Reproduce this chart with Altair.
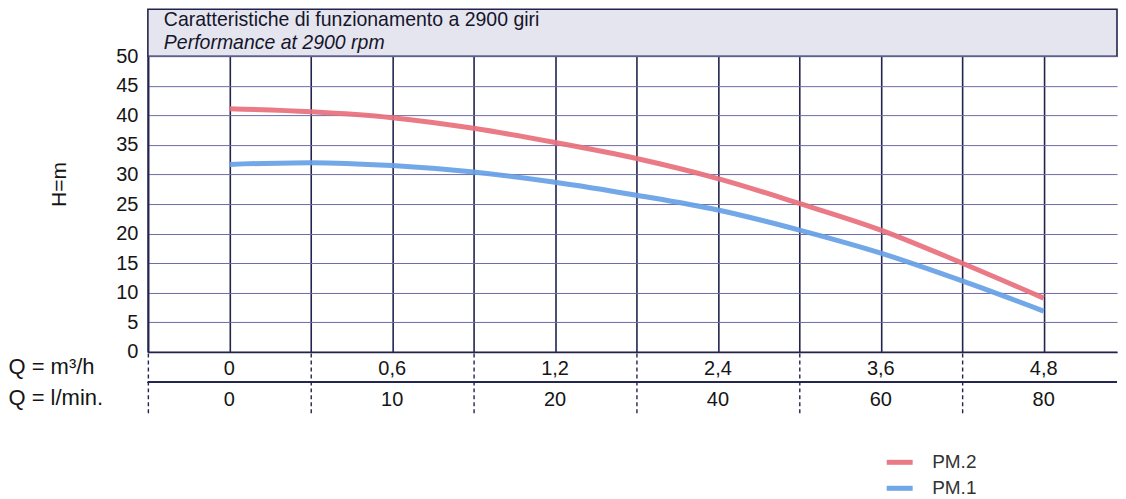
import altair as alt
import pandas as pd

# ---- data ----
pos = [0, 0.5, 1, 1.5, 2, 2.5, 3, 3.5, 4, 4.5, 5]
pm2 = [41.1, 40.6, 39.6, 37.8, 35.4, 32.7, 29.3, 25.1, 20.6, 15.0, 9.1]
pm1 = [31.7, 32.0, 31.5, 30.4, 28.7, 26.5, 24.0, 20.6, 16.7, 12.0, 6.9]
series_names = ["PM.2", "PM.1"]
series_colors = ["#e8707c", "#66a0e6"]

label_pos = [0, 1, 2, 3, 4, 5]
q_m3h = ["0", "0,6", "1,2", "2,4", "3,6", "4,8"]
q_lmin = ["0", "10", "20", "40", "60", "80"]
row_names = ["Q = m³/h", "Q = l/min."]

title_line1 = "Caratteristiche di funzionamento a 2900 giri"
title_line2 = "Performance at 2900 rpm"

y_ticks = list(range(0, 51, 5))
x_grid = [-0.5 + 0.5 * i for i in range(12)]
x_sep = [-0.5 + i for i in range(6)]

W = 970
FONT = "Liberation Sans"
DARK = "#23244d"

curves = pd.DataFrame(
    {"pos": pos * 2, "H": pm2 + pm1, "series": [series_names[0]] * len(pos) + [series_names[1]] * len(pos)}
)
table = pd.DataFrame(
    {
        "pos": label_pos * 2,
        "row": [row_names[0]] * len(label_pos) + [row_names[1]] * len(label_pos),
        "label": q_m3h + q_lmin,
    }
)

xscale = alt.Scale(domain=[-0.5, 5.45], nice=False, zero=False)

# ---- title box ----
t1 = alt.Chart(pd.DataFrame({"t": [title_line1]})).mark_text(
    align="left", baseline="middle", fontSize=19.5, font=FONT, color="#15152a"
).encode(x=alt.value(16), y=alt.value(11), text="t:N")
t2 = alt.Chart(pd.DataFrame({"t": [title_line2]})).mark_text(
    align="left", baseline="middle", fontSize=19.5, font=FONT, fontStyle="italic", color="#15152a"
).encode(x=alt.value(16), y=alt.value(34), text="t:N")
title_panel = alt.layer(t1, t2).properties(
    width=W, height=47, view=alt.ViewBackground(fill="#e5e5f0", stroke=DARK, strokeWidth=1.6)
)

# ---- main plot ----
main = alt.Chart(curves).mark_line(strokeWidth=5, interpolate="monotone", opacity=0.92).encode(
    x=alt.X(
        "pos:Q",
        scale=xscale,
        axis=alt.Axis(
            values=x_grid, grid=True, gridColor=DARK, gridWidth=1.6, labels=False, ticks=False,
            domain=True, domainColor=DARK, domainWidth=1.6, title=None,
        ),
    ),
    y=alt.Y(
        "H:Q",
        scale=alt.Scale(domain=[0, 50], nice=False),
        axis=alt.Axis(
            values=y_ticks, grid=True, gridColor="#6b6ba6", gridWidth=1, ticks=False,
            domainColor=DARK, domainWidth=2, labelFontSize=20, labelPadding=10, labelColor="#151515",
            labelFont=FONT, title="H=m", titleFontSize=21, titleFont=FONT, titleFontWeight="normal",
            titleColor="#151515", titleAngle=-90, titleX=-88, titleY=128, titleAlign="center",
            titleBaseline="middle",
        ),
    ),
    color=alt.Color(
        "series:N",
        scale=alt.Scale(domain=series_names, range=series_colors),
        legend=alt.Legend(
            title=None, orient="none", legendX=737, legendY=438, symbolType="stroke",
            symbolStrokeWidth=5, symbolSize=676, labelFontSize=19, labelFont=FONT, labelColor="#333",
            labelOffset=17, rowPadding=-2,
        ),
    ),
).properties(width=W, height=296, view=alt.ViewBackground(stroke=None))

# ---- Q table below ----
yrow = alt.Y(
    "row:N",
    sort=row_names,
    scale=alt.Scale(domain=row_names, paddingInner=0, paddingOuter=0),
    axis=alt.Axis(
        labelAlign="left", labelPadding=140, ticks=False, domain=False, grid=False,
        labelFontSize=22, labelFont=FONT, labelColor="#151515", title=None,
    ),
)
tab_text = alt.Chart(table).mark_text(fontSize=20, font=FONT, color="#151515", dy=2).encode(
    x=alt.X(
        "pos:Q",
        scale=xscale,
        axis=alt.Axis(
            values=x_sep, grid=True, gridColor=DARK, gridWidth=1.4, gridDash=[4, 3],
            labels=False, ticks=False, domain=False, title=None,
        ),
    ),
    y=yrow,
    text="label:N",
)
tab_rule = alt.Chart(table).mark_rule(color=DARK, strokeWidth=1.2).encode(
    y=alt.YDatum(row_names[1], type="nominal", bandPosition=0)
)
table_panel = alt.layer(tab_text, tab_rule).properties(
    width=W, height=61, view=alt.ViewBackground(stroke=None)
)

chart = (
    alt.vconcat(title_panel, main, table_panel, spacing=0, bounds="flush")
    .properties(padding=0, background="white")
    .configure(font=FONT)
)

chart.save("out.html", embed_options={"renderer": "svg", "actions": False})
